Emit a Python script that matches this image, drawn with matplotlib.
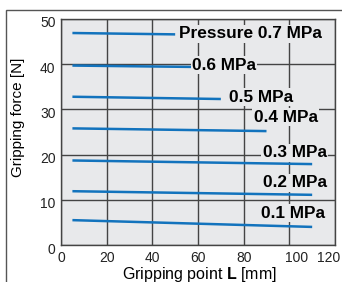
import matplotlib
matplotlib.use("Agg")
import matplotlib.pyplot as plt
from matplotlib.patches import Rectangle
from matplotlib.transforms import ScaledTranslation

plt.rcParams['font.family'] = ['Liberation Sans', 'DejaVu Sans']
plt.rcParams['mathtext.fontset'] = 'custom'
plt.rcParams['mathtext.bf'] = 'Liberation Sans:bold'
plt.rcParams['mathtext.rm'] = 'Liberation Sans'

# data
pressures = ["0.7", "0.6", "0.5", "0.4", "0.3", "0.2", "0.1"]
x_start = [5, 5, 5, 5, 5, 5, 5]
x_end = [50, 57, 70, 90, 110, 110, 110]
f_start = [46.9, 39.7, 32.8, 25.8, 18.7, 11.9, 5.5]
f_end = [46.6, 39.4, 32.3, 25.2, 17.9, 11.1, 4.0]

# label anchors (left edge, vertical centre) in data units
label_x = [51.7, 57.4, 73.6, 84.4, 88.3, 88.3, 87.6]
label_y = [46.7, 39.8, 32.7, 28.3, 20.4, 13.8, 7.0]

xticks = [0, 20, 40, 60, 80, 100, 120]
yticks = [0, 10, 20, 30, 40, 50]

blue = '#1273bd'
bg = '#e8e9eb'
gridc = '#444444'

fig = plt.figure(figsize=(3.42, 2.82), dpi=100)
fig.patch.set_facecolor('white')

# outer frame
fig.patches.append(Rectangle((6 / 342, -0.1), 1.2, 1 - 10 / 282 + 0.1,
                             transform=fig.transFigure, fill=False,
                             edgecolor='#555555', lw=1.0))

ax = fig.add_axes([61 / 342, 1 - 245 / 282, 274 / 342, 226 / 282])
ax.set_facecolor(bg)
ax.set_xlim(0, 120)
ax.set_ylim(0, 50)
ax.set_xticks(xticks)
ax.set_yticks(yticks)
ax.tick_params(length=0, labelsize=10, pad=4, colors='#222222')
ax.grid(True, color=gridc, lw=1.0, zorder=1)
ax.set_axisbelow(True)
for s in ax.spines.values():
    s.set_color('#444444')
    s.set_linewidth(1.0)

# nudge tick labels like the original
xl = ax.get_xticklabels()
xl[5].set_transform(xl[5].get_transform() + ScaledTranslation(0.07, 0, fig.dpi_scale_trans))
xl[6].set_transform(xl[6].get_transform() + ScaledTranslation(-0.06, 0, fig.dpi_scale_trans))
for t in ax.get_yticklabels():
    t.set_transform(t.get_transform() + ScaledTranslation(0, -0.03, fig.dpi_scale_trans))

for i in range(len(pressures)):
    ax.plot([x_start[i], x_end[i]], [f_start[i], f_end[i]], color=blue,
            lw=1.8, solid_capstyle='butt', zorder=2)
    txt = pressures[i] + " MPa"
    if i == 0:
        txt = "Pressure " + txt
    ax.text(label_x[i], label_y[i], txt, fontsize=12.4, fontweight='bold',
            ha='left', va='center', zorder=3,
            bbox=dict(facecolor=bg, edgecolor='none', pad=1.0))

fig.text(18.5 / 342, 1 - 117.5 / 282, "Gripping force [N]", rotation=90,
         ha='center', va='center', fontsize=11)
fig.text(199 / 342, 1 - 274 / 282, r"Gripping point $\mathbf{L}$ [mm]",
         ha='center', va='center', fontsize=11.5)

fig.savefig("out.png", dpi=100)
